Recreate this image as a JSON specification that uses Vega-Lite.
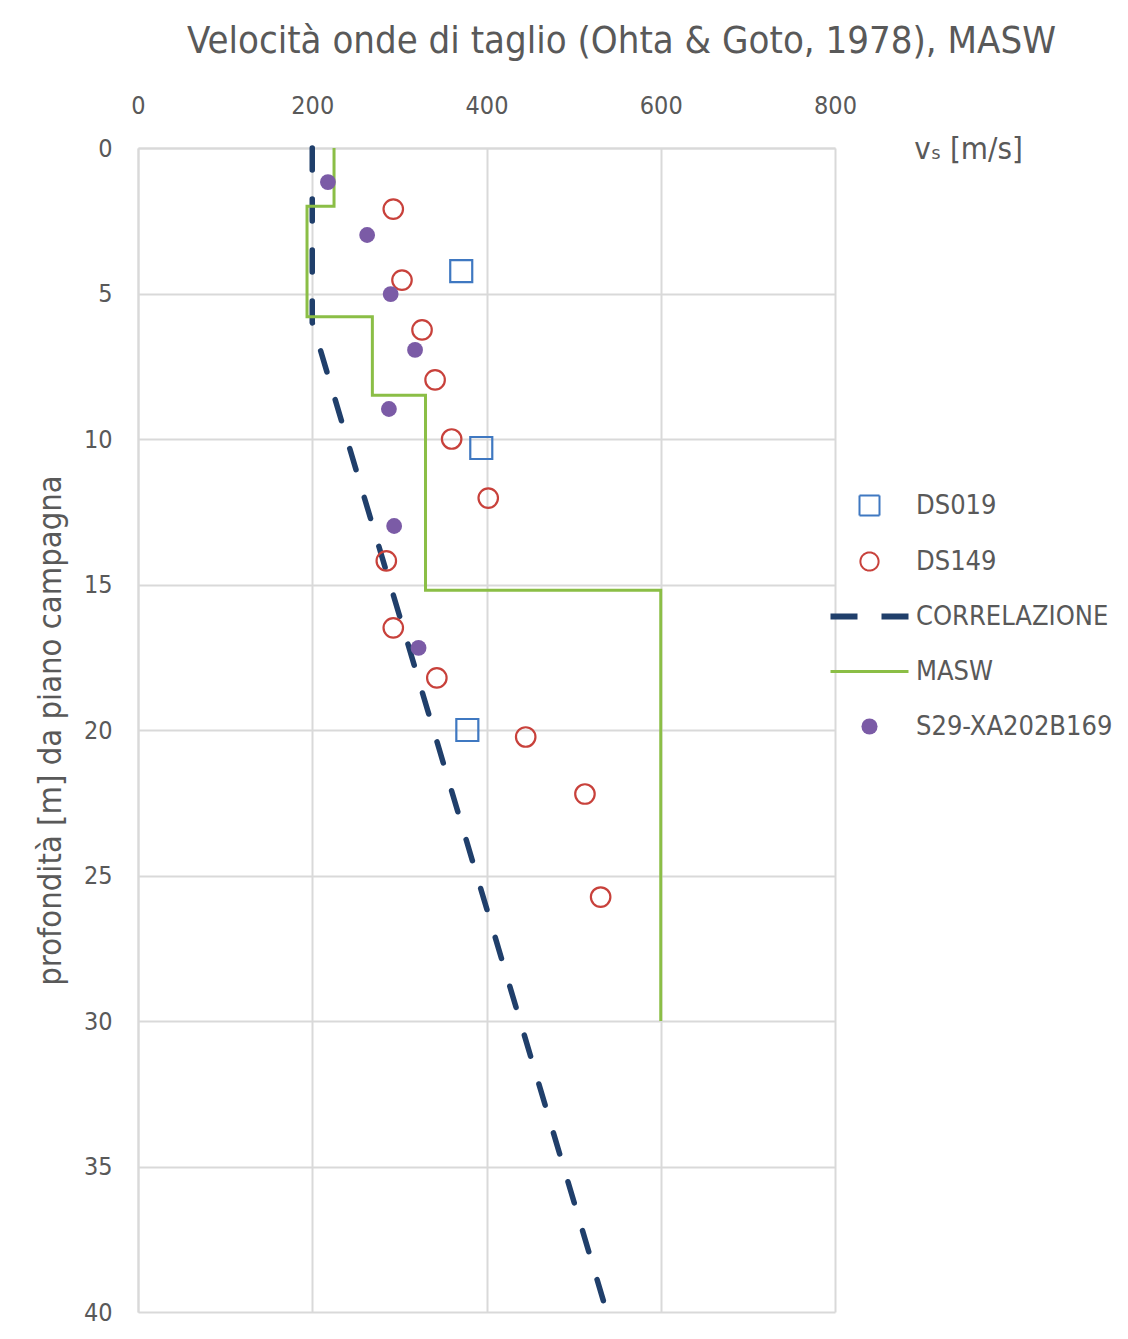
{
  "$schema": "https://vega.github.io/schema/vega-lite/v6.json",
  "width": 697,
  "height": 1164,
  "autosize": "none",
  "padding": {"left": 138, "top": 148, "right": 293, "bottom": 27},
  "background": "white",
  "config": {
    "font": "Liberation Sans Narrow, DejaVu Sans Condensed, Open Sans",
    "view": {"stroke": null}
  },
  "title": {
    "text": "Velocità onde di taglio (Ohta & Goto, 1978), MASW",
    "fontSize": 38,
    "fontWeight": "normal",
    "color": "#595959",
    "anchor": "middle",
    "dx": 135,
    "offset": 32
  },
  "datasets": {
    "masw": [
      {"i": 1, "vs": 225, "z": 0, "series": "MASW"},
      {"i": 2, "vs": 225, "z": 2.0, "series": "MASW"},
      {"i": 3, "vs": 194, "z": 2.0, "series": "MASW"},
      {"i": 4, "vs": 194, "z": 5.8, "series": "MASW"},
      {"i": 5, "vs": 269, "z": 5.8, "series": "MASW"},
      {"i": 6, "vs": 269, "z": 8.5, "series": "MASW"},
      {"i": 7, "vs": 330, "z": 8.5, "series": "MASW"},
      {"i": 8, "vs": 330, "z": 15.2, "series": "MASW"},
      {"i": 9, "vs": 600, "z": 15.2, "series": "MASW"},
      {"i": 10, "vs": 600, "z": 30, "series": "MASW"}
    ],
    "corr": [
      {"i": 1, "vs": 200, "z": 0, "series": "CORRELAZIONE"},
      {"i": 2, "vs": 200, "z": 6, "series": "CORRELAZIONE"},
      {"i": 3, "vs": 538, "z": 40, "series": "CORRELAZIONE"}
    ],
    "ds019": [
      {"vs": 371, "z": 4.23, "series": "DS019"},
      {"vs": 394, "z": 10.31, "series": "DS019"},
      {"vs": 378, "z": 20.0, "series": "DS019"}
    ],
    "ds149": [
      {"vs": 293, "z": 2.10, "series": "DS149"},
      {"vs": 303, "z": 4.54, "series": "DS149"},
      {"vs": 326, "z": 6.25, "series": "DS149"},
      {"vs": 341, "z": 7.97, "series": "DS149"},
      {"vs": 360, "z": 10.0, "series": "DS149"},
      {"vs": 402, "z": 12.03, "series": "DS149"},
      {"vs": 285, "z": 14.19, "series": "DS149"},
      {"vs": 293, "z": 16.49, "series": "DS149"},
      {"vs": 343, "z": 18.21, "series": "DS149"},
      {"vs": 445, "z": 20.24, "series": "DS149"},
      {"vs": 513, "z": 22.2, "series": "DS149"},
      {"vs": 531, "z": 25.74, "series": "DS149"}
    ],
    "s29": [
      {"vs": 218, "z": 1.17, "series": "S29-XA202B169"},
      {"vs": 263, "z": 2.99, "series": "S29-XA202B169"},
      {"vs": 290, "z": 5.02, "series": "S29-XA202B169"},
      {"vs": 318, "z": 6.94, "series": "S29-XA202B169"},
      {"vs": 288, "z": 8.97, "series": "S29-XA202B169"},
      {"vs": 294, "z": 12.99, "series": "S29-XA202B169"},
      {"vs": 322, "z": 17.18, "series": "S29-XA202B169"}
    ]
  },
  "layer": [
    {
      "data": {"name": "corr"},
      "mark": {"type": "line", "strokeWidth": 5.5, "strokeDash": [22, 29], "strokeCap": "round"},
      "encoding": {
        "x": {
          "field": "vs", "type": "quantitative",
          "scale": {"domain": [0, 800], "nice": false, "zero": false},
          "axis": {
            "orient": "top",
            "values": [0, 200, 400, 600, 800],
            "grid": true, "gridColor": "#D9D9D9", "gridWidth": 2,
            "domain": true, "domainColor": "#D9D9D9", "domainWidth": 2,
            "ticks": false,
            "labelFlush": false,
            "labelFontSize": 25, "labelColor": "#595959", "labelPadding": 30,
            "title": "vₛ [m/s]",
            "titleFontSize": 31, "titleFontWeight": "normal", "titleColor": "#595959",
            "titleX": 830, "titleY": 10, "titleAlign": "center", "titleBaseline": "alphabetic",
            "titleAnchor": null
          }
        },
        "y": {
          "field": "z", "type": "quantitative",
          "scale": {"domain": [0, 40], "reverse": true, "nice": false},
          "axis": {
            "values": [0, 5, 10, 15, 20, 25, 30, 35, 40],
            "grid": true, "gridColor": "#D9D9D9", "gridWidth": 2,
            "domain": true, "domainColor": "#D9D9D9", "domainWidth": 2,
            "ticks": false,
            "labelFlush": false,
            "labelFontSize": 25, "labelColor": "#595959", "labelPadding": 26,
            "title": "profondità [m] da piano campagna",
            "titleFontSize": 32.5, "titleFontWeight": "normal", "titleColor": "#595959",
            "titleX": -88, "titleY": 582, "titleAngle": -90, "titleAlign": "center", "titleBaseline": "middle"
          }
        },
        "color": {
          "field": "series", "type": "nominal",
          "scale": {
            "domain": ["DS019", "DS149", "CORRELAZIONE", "MASW", "S29-XA202B169"],
            "range": ["#3F78C1", "#C8413B", "#203F6B", "#8BBE46", "#7B5BA6"]
          },
          "legend": {
            "title": null,
            "orient": "none",
            "legendX": 718,
            "legendY": 344,
            "padding": 0,
            "symbolSize": 400,
            "labelFontSize": 27,
            "labelColor": "#595959",
            "labelOffset": 33,
            "rowPadding": 27,
            "labelLimit": 400,
            "encode": {
              "symbols": {
                "update": {
                  "shape": {"signal": "datum.value === 'DS019' ? 'square' : (datum.value === 'CORRELAZIONE' || datum.value === 'MASW') ? 'stroke' : 'circle'"},
                  "size": {"signal": "datum.value === 'DS019' ? 400 : datum.value === 'DS149' ? 330 : datum.value === 'S29-XA202B169' ? 260 : 6084"},
                  "fill": {"signal": "datum.value === 'S29-XA202B169' ? '#7B5BA6' : 'transparent'"},
                  "fillOpacity": {"signal": "datum.value === 'S29-XA202B169' ? 1 : 0"},
                  "stroke": {"signal": "datum.value === 'DS019' ? '#3F78C1' : datum.value === 'DS149' ? '#C8413B' : datum.value === 'CORRELAZIONE' ? '#203F6B' : datum.value === 'MASW' ? '#8BBE46' : '#7B5BA6'"},
                  "strokeWidth": {"signal": "datum.value === 'CORRELAZIONE' ? 6 : datum.value === 'MASW' ? 3 : datum.value === 'S29-XA202B169' ? 0 : 2"},
                  "strokeDash": {"signal": "datum.value === 'CORRELAZIONE' ? [27, 24] : [1, 0]"},
                  "opacity": {"value": 1}
                }
              }
            }
          }
        },
        "order": {"field": "i", "type": "quantitative"}
      }
    },
    {
      "data": {"name": "masw"},
      "mark": {"type": "line", "strokeWidth": 3},
      "encoding": {
        "x": {"field": "vs", "type": "quantitative"},
        "y": {"field": "z", "type": "quantitative"},
        "color": {"field": "series", "type": "nominal"},
        "order": {"field": "i", "type": "quantitative"}
      }
    },
    {
      "data": {"name": "ds019"},
      "mark": {"type": "point", "shape": "square", "filled": false, "size": 484, "strokeWidth": 2.2, "opacity": 1},
      "encoding": {
        "x": {"field": "vs", "type": "quantitative"},
        "y": {"field": "z", "type": "quantitative"},
        "color": {"field": "series", "type": "nominal"}
      }
    },
    {
      "data": {"name": "ds149"},
      "mark": {"type": "point", "shape": "circle", "filled": false, "size": 380, "strokeWidth": 2.2, "opacity": 1},
      "encoding": {
        "x": {"field": "vs", "type": "quantitative"},
        "y": {"field": "z", "type": "quantitative"},
        "color": {"field": "series", "type": "nominal"}
      }
    },
    {
      "data": {"name": "s29"},
      "mark": {"type": "circle", "size": 250, "opacity": 1},
      "encoding": {
        "x": {"field": "vs", "type": "quantitative"},
        "y": {"field": "z", "type": "quantitative"},
        "color": {"field": "series", "type": "nominal"}
      }
    }
  ]
}
